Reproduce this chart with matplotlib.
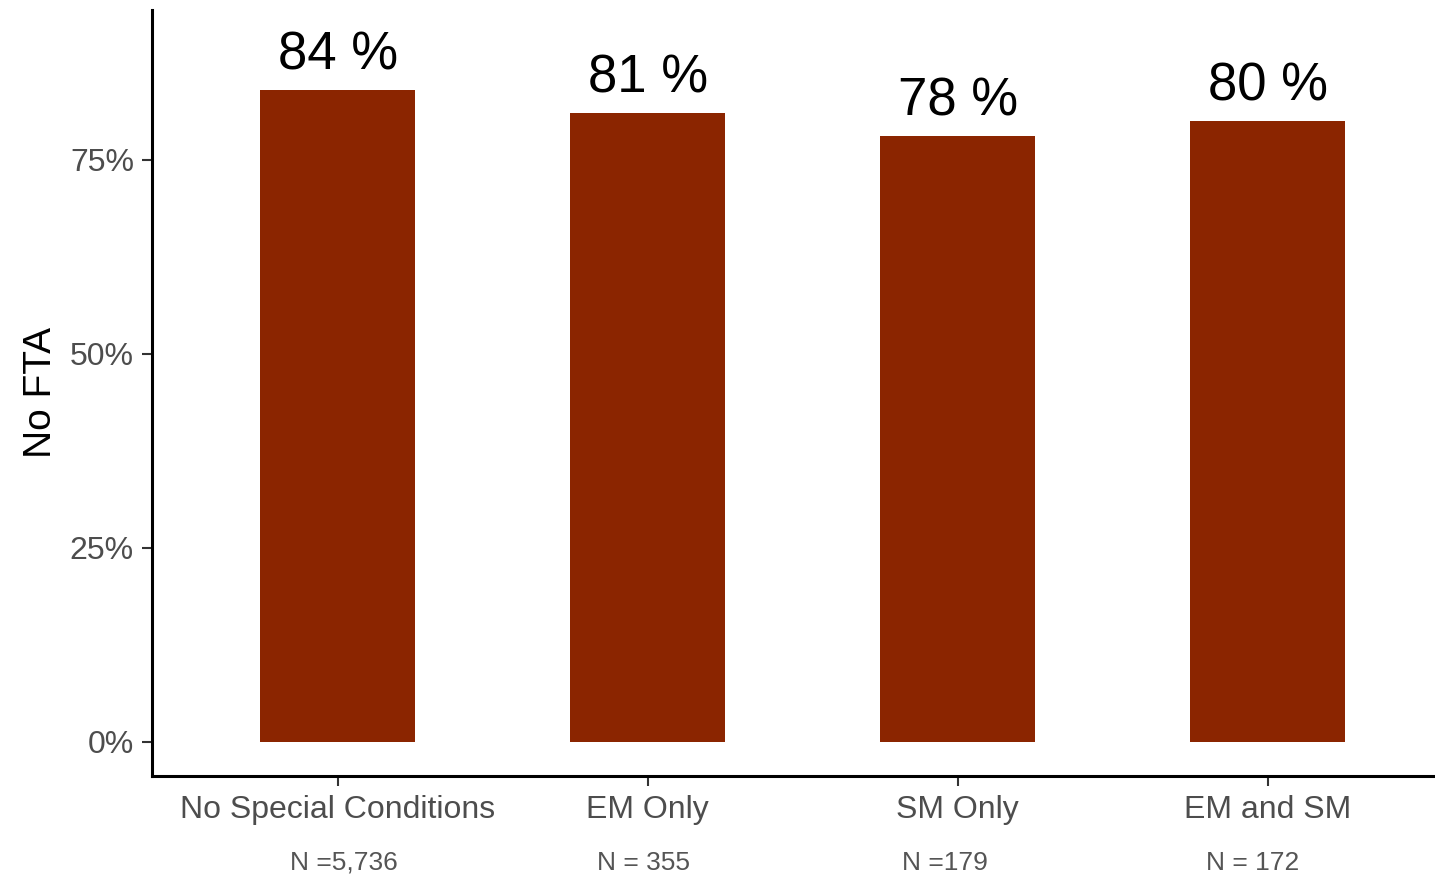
import matplotlib.pyplot as plt
import numpy as np

plt.rcParams['font.family'] = ['Liberation Sans', 'DejaVu Sans']

# data
categories = ['No Special Conditions', 'EM Only', 'SM Only', 'EM and SM']
no_fta_pct = [84, 81, 78, 80]
n_labels = ['N =5,736', 'N = 355', 'N =179', 'N = 172']
y_ticks = [0, 25, 50, 75]

bar_color = '#8B2500'
x = np.arange(len(categories))

fig = plt.figure(figsize=(14.35, 8.74), dpi=100)
ax = fig.add_axes([0.1059, 0.1121, 0.8941, 0.8765])

ax.bar(x, no_fta_pct, width=0.5, color=bar_color)

# percentage labels above bars
for xi, v in zip(x, no_fta_pct):
    ax.annotate('{} %'.format(v), (xi, v), xytext=(0, 7), textcoords='offset points',
                ha='center', va='bottom', fontsize=38, color='black')

# sample size labels under the category names
n_offsets = [0.02, -0.013, -0.042, -0.048]
for xi, off, lab in zip(x, n_offsets, n_labels):
    ax.text(xi + off, -0.113, lab, transform=ax.get_xaxis_transform(),
            ha='center', va='center', fontsize=19, color='#555555')

ax.set_xlim(-0.6, 3.54)
ax.set_ylim(-4.4, 94.3)
ax.set_xticks(x)
ax.set_xticklabels(categories)
ax.set_yticks(y_ticks)
ax.set_yticklabels(['{}%'.format(t) for t in y_ticks])

ax.tick_params(axis='both', labelsize=23, labelcolor='#4D4D4D', length=7, width=1.5, color='#333333')
ax.tick_params(axis='x', pad=7)
ax.tick_params(axis='y', pad=6)

ax.set_ylabel('No FTA', fontsize=28, color='black')
ax.yaxis.set_label_coords(-0.0725, 0.5)

for side in ['top', 'right']:
    ax.spines[side].set_visible(False)
for side in ['left', 'bottom']:
    ax.spines[side].set_linewidth(2.2)
    ax.spines[side].set_color('black')

fig.savefig('out.png', dpi=100)
